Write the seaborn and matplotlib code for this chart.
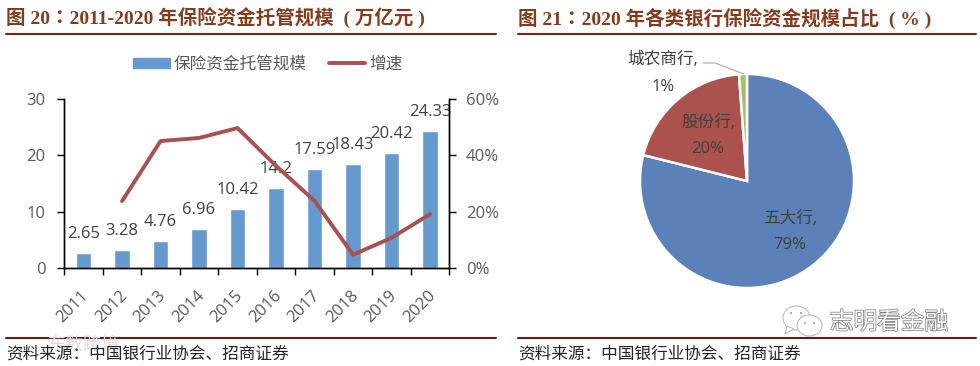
import matplotlib
matplotlib.use("Agg")
import matplotlib.pyplot as plt
import matplotlib.patheffects as pe
from matplotlib.lines import Line2D
from matplotlib.patches import Ellipse, Patch, Polygon
from matplotlib.transforms import ScaledTranslation
import pandas as pd
import seaborn as sns

years = [2011, 2012, 2013, 2014, 2015, 2016, 2017, 2018, 2019, 2020]
custody_scale = [2.65, 3.28, 4.76, 6.96, 10.42, 14.2, 17.59, 18.43, 20.42, 24.33]
growth_pct = [None, 23.8, 45.1, 46.2, 49.7, 36.3, 23.9, 4.8, 10.8, 19.2]

bank_types = ["五大行", "股份行", "城农商行"]
bank_shares = [78.9, 19.9, 1.2]

left_yticks = [0, 10, 20, 30]
right_yticks = [0, 20, 40, 60]

BAR_COLOR = "#6699CE"
LINE_COLOR = "#A8524F"
PIE_COLORS = ["#5B81B8", "#AC524E", "#A6C06C"]
TEXT_GRAY = "#595959"
LABEL_DARK = "#404040"
TITLE_COLOR = "#843C1F"
RULE_COLOR = "#6E2A1A"
RULE_DARK = "#5A1F16"

W, H = 980, 366

sns.set_theme(style="white")
plt.rcParams["font.family"] = ["Open Sans", "Noto Sans CJK SC"]
plt.rcParams["axes.unicode_minus"] = False

fig = plt.figure(figsize=(W / 100, H / 100), dpi=100, facecolor="white")


def px_axes(x0, y0, x1, y1, **kw):
    # pixel box measured from the top left of the picture
    return fig.add_axes([x0 / W, 1 - y1 / H, (x1 - x0) / W, (y1 - y0) / H], **kw)


# left chart: bars plus growth line
ax = px_axes(64.3, 99, 449.3, 268.3)
df = pd.DataFrame({"year": years, "scale": custody_scale, "growth": growth_pct})
sns.barplot(data=df, x="year", y="scale", native_scale=True, color=BAR_COLOR,
            saturation=1, width=0.4, ax=ax)
ax.set_xlim(2010.5, 2020.5)
ax.set_ylim(0, 30)
ax.set_yticks(left_yticks)
ax.set_xticks([y - 0.5 for y in years] + [years[-1] + 0.5])
ax.set_xticklabels([])
ax.set_xticks(years, minor=True)
ax.set_xticklabels(years, minor=True, rotation=45, ha="right", va="center",
                   rotation_mode="anchor", color=TEXT_GRAY, fontsize=12)
ax.tick_params(axis="x", which="minor", length=0, pad=18)
ax.tick_params(axis="x", which="major", direction="out", length=5, width=1, color="black", bottom=True)
ax.tick_params(axis="y", direction="out", length=5, width=1, color="black", left=True,
               labelcolor=TEXT_GRAY, labelsize=12, pad=8.5)
for lab in ax.get_xticklabels(minor=True):
    lab.set_transform(lab.get_transform() + ScaledTranslation(0.03, 0, fig.dpi_scale_trans))
ax.set_xlabel("")
ax.set_ylabel("")
ax.bar_label(ax.containers[0], fmt="%g", padding=8, color=LABEL_DARK, fontsize=12)

ax2 = ax.twinx()
sns.lineplot(data=df.dropna(), x="year", y="growth", color=LINE_COLOR, linewidth=2.8,
             solid_capstyle="round", ax=ax2)
ax2.set_ylim(0, 60)
ax2.set_yticks(right_yticks)
ax2.set_yticklabels([f"{v}%" for v in right_yticks])
ax2.tick_params(axis="y", direction="out", length=5, width=1, color="black", right=True,
                labelcolor=TEXT_GRAY, labelsize=12, pad=7)
ax2.set_ylabel("")
ax2.set_xlabel("")
for a in (ax, ax2):
    a.spines["top"].set_visible(False)
    for side in ("left", "right", "bottom"):
        a.spines[side].set_color("black")
        a.spines[side].set_linewidth(1)

# right chart: pie
cx, cy, r = 747, 181, 107
pie_ax = px_axes(cx - r, cy - r, cx + r, cy + r)
pie_ax.pie(bank_shares, colors=PIE_COLORS, startangle=90, counterclock=False, radius=1,
           wedgeprops={"edgecolor": "white", "linewidth": 1.8})
pie_ax.set_xlim(-1, 1)
pie_ax.set_ylim(-1, 1)

# overlay in pixel coordinates for titles, rules, notes
ov = fig.add_axes([0, 0, 1, 1], zorder=10)
ov.set_xlim(0, W)
ov.set_ylim(H, 0)
ov.axis("off")
ov.patch.set_alpha(0)

title_font = ["Liberation Serif", "Noto Sans CJK TC"]
ov.text(6, 18, "图 20：2011-2020 年保险资金托管规模  ( 万亿元 )", family=title_font,
        fontweight="bold", fontsize=14, color=TITLE_COLOR, va="center")
ov.text(518, 18, "图 21：2020 年各类银行保险资金规模占比  ( % )", family=title_font,
        fontweight="bold", fontsize=14, color=TITLE_COLOR, va="center")

for x0, x1 in [(6, 496), (518, 976)]:
    ov.add_line(Line2D([x0, x1], [33.5, 33.5], color=RULE_COLOR, lw=1.5))
    ov.add_line(Line2D([x0, x1], [338, 338], color=RULE_DARK, lw=1.5))

# faint watermark under the left source line
ov.text(48, 345, "东数跨境", color="#dddddd", fontsize=13, va="center")
ov.text(6, 355, "资料来源：中国银行业协会、招商证券", color="#222222", fontsize=12, va="center")
ov.text(518, 355, "资料来源：中国银行业协会、招商证券", color="#222222", fontsize=12, va="center")

# legend
handles = [Patch(color=BAR_COLOR, label="保险资金托管规模"),
           Line2D([0], [0], color=LINE_COLOR, lw=2.8, label="增速")]
ov.legend(handles=handles, ncol=2, frameon=False, loc="center", bbox_to_anchor=(268, 65),
          bbox_transform=ov.transData, fontsize=12, labelcolor=TEXT_GRAY,
          handlelength=2.2, handleheight=0.6, handletextpad=0.25, columnspacing=1.3)

# pie labels
label_pos = [(790, 232), (708, 136), (663, 73)]
for name, share, (lx, ly) in zip(bank_types, bank_shares, label_pos):
    ov.text(lx, ly, f"{name},\n{share:.0f}%", ha="center", va="center", color=LABEL_DARK,
            fontsize=12, linespacing=1.9)
ov.add_line(Line2D([703, 715, 744], [63, 63, 74], color="#aaaaaa", lw=0.8))

# wechat style mark
icon_edge = "#bdbdbd"
ov.add_patch(Ellipse((796.5, 318), 27, 24, fc="white", ec=icon_edge, lw=0.8))
ov.add_patch(Polygon([[787, 326], [785, 334], [794, 329]], fc="white", ec=icon_edge, lw=0.8))
ov.add_patch(Ellipse((809.5, 325.5), 25, 21, fc="white", ec=icon_edge, lw=0.8))
for ex, ey in [(791, 313), (801, 313), (805, 323), (814, 323)]:
    ov.add_patch(Ellipse((ex, ey), 2, 2, fc="#999999", ec="none"))
ov.text(889, 323, "志明看金融", color="white", fontsize=17, ha="center", va="center",
        path_effects=[pe.withStroke(linewidth=1.1, foreground="#808080")])

fig.savefig("out.png", dpi=100)
